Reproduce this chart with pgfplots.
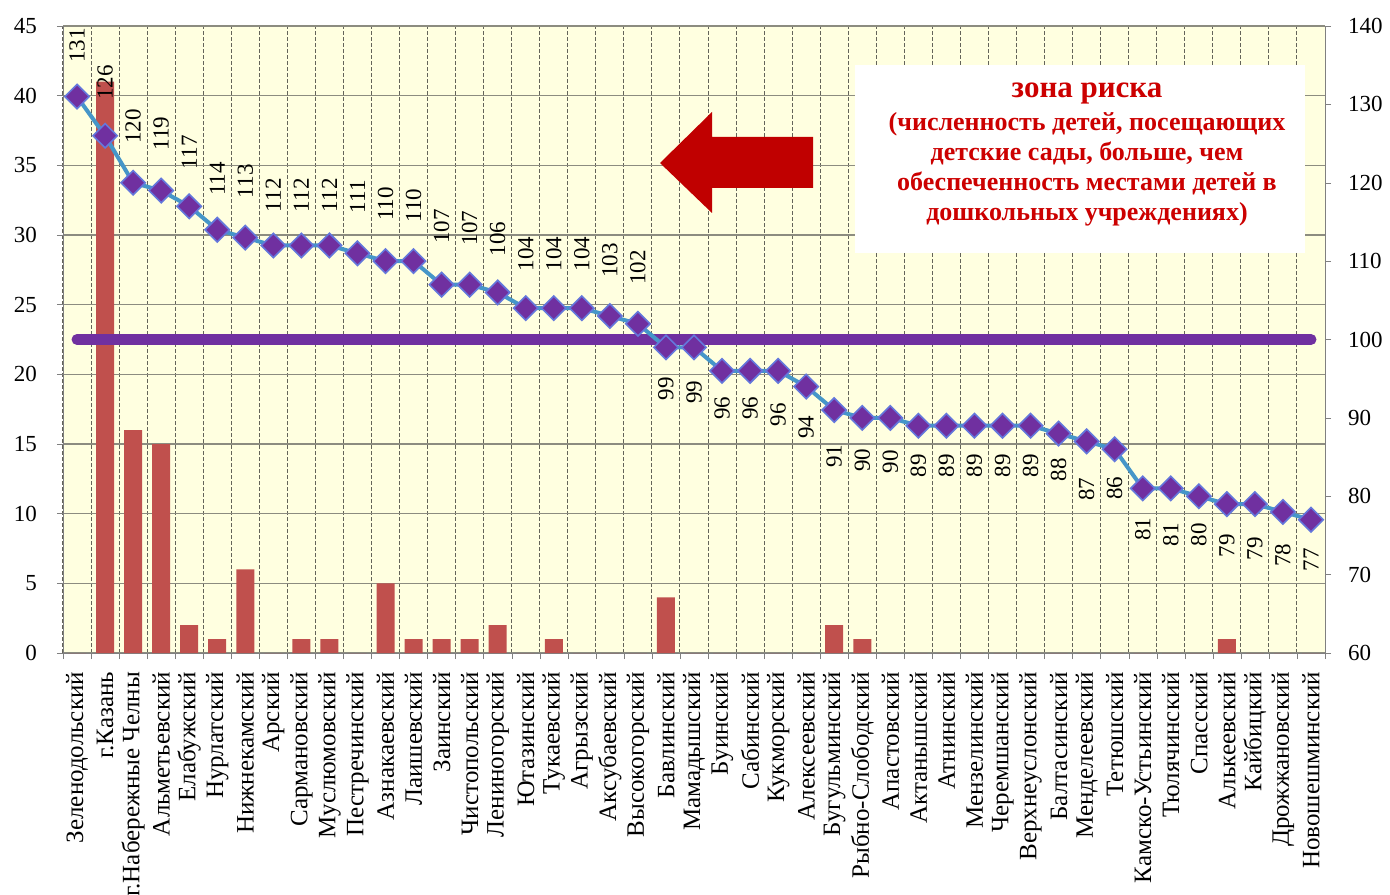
\documentclass[border=0pt]{standalone}
\usepackage{fontspec}
\setmainfont{Liberation Serif}
\usepackage{pgfplots}
\usepackage{pgfplotstable}
\pgfplotsset{compat=1.18}
\definecolor{bgyellow}{RGB}{255,255,224}
\definecolor{barred}{RGB}{192,80,77}
\definecolor{purp}{RGB}{112,48,160}
\definecolor{lineblue}{RGB}{70,150,200}
\definecolor{rimblue}{RGB}{100,120,220}
\definecolor{gridgray}{RGB}{140,140,128}
\definecolor{dashgray}{RGB}{100,100,90}
\definecolor{textred}{RGB}{204,0,0}
\definecolor{arrowred}{RGB}{192,0,0}
\pgfplotstableread{
x v bar ly
0 131 0 137.5
1 126 41 132.8
2 120 16 127.2
3 119 15 126.3
4 117 2 123.9
5 114 1 120.5
6 113 6 120.2
7 112 0 118.4
8 112 1 118.4
9 112 1 118.4
10 111 0 118.2
11 110 5 117.3
12 110 1 117.1
13 107 1 114.4
14 107 1 114.2
15 106 2 112.8
16 104 0 110.9
17 104 1 110.9
18 104 0 110.9
19 103 0 110.1
20 102 0 109.2
21 99 4 93.7
22 99 0 93.3
23 96 0 91.2
24 96 0 91.2
25 96 0 90.4
26 94 0 88.8
27 91 2 85.1
28 90 1 84.6
29 90 0 84.4
30 89 0 83.9
31 89 0 83.9
32 89 0 83.9
33 89 0 83.9
34 89 0 83.9
35 88 0 83.4
36 87 0 80.9
37 86 0 81.0
38 81 0 75.8
39 81 0 75.1
40 80 0 75.1
41 79 1 73.7
42 79 0 73.3
43 78 0 72.5
44 77 0 71.9
}\data
\begin{document}
\begin{tikzpicture}
\path[use as bounding box] (-31.5pt,-120.5pt) rectangle (663.5pt,326.5pt);
\begin{axis}[at={(0pt,0pt)}, anchor=south west, scale only axis,
  width=631pt, height=313.5pt,
  xmin=-0.5, xmax=44.5, ymin=0, ymax=45,
  axis background/.style={fill=bgyellow},
  axis x line*=bottom, axis y line*=left,
  axis line style={-, draw=gray},
  xtick={0,...,44},
  xticklabels={Зеленодольский, г.Казань, г.Набережные Челны, Альметьевский, Елабужский, Нурлатский, Нижнекамский, Арский, Сармановский, Муслюмовский, Пестречинский, Азнакаевский, Лаишевский, Заинский, Чистопольский, Лениногорский, Ютазинский, Тукаевский, Агрызский, Аксубаевский, Высокогорский, Бавлинский, Мамадышский, Буинский, Сабинский, Кукморский, Алексеевский, Бугульминский, Рыбно-Слободский, Апастовский, Актанышский, Атнинский, Мензелинский, Черемшанский, Верхнеуслонский, Балтасинский, Менделеевский, Тетюшский, Камско-Устьинский, Тюлячинский, Спасский, Алькеевский, Кайбицкий, Дрожжановский, Новошешминский},
  minor xtick={-0.5,0.5,...,44.5},
  xminorgrids, ymajorgrids,
  ytick={0,5,...,45},
  major grid style={gridgray, line width=0.6pt},
  minor grid style={dashgray, dash pattern=on 2pt off 1pt, line width=0.5pt},
  tick align=outside,
  major tick length=3pt, minor tick length=3pt,
  tick style={gray},
  major x tick style={draw=none},
  xticklabel shift=3pt,
  xticklabel style={rotate=90, anchor=east, font=\fontsize{12.5}{13}\selectfont},
  yticklabel style={font=\fontsize{11.5}{12}\selectfont, xshift=-6.5pt},
  /pgf/number format/assume math mode=true,
  ybar, bar width=9pt,
]
\addplot[fill=barred, draw=none] table[x=x,y=bar]{\data};
\end{axis}
\begin{axis}[at={(0pt,0pt)}, anchor=south west, scale only axis,
  width=631pt, height=313.5pt,
  xmin=-0.5, xmax=44.5, ymin=60, ymax=140,
  axis x line=none, axis y line*=right, xtick=\empty,
  axis line style={-, draw=gray},
  ytick={60,70,...,140},
  tick align=outside, major tick length=3pt, tick style={gray},
  yticklabel style={font=\fontsize{11.5}{12}\selectfont, xshift=5pt},
  /pgf/number format/assume math mode=true,
  clip=false,
]
\addplot[purp, line width=5.5pt, line cap=round] coordinates {(0,100) (44,100)};
\addplot[lineblue, line width=2pt, mark=square*, mark size=4.3pt,
  mark options={rotate=45, fill=purp, draw=rimblue, line width=0.8pt, solid}]
  table[x=x,y=v]{\data};
\addplot[draw=none, nodes near coords, point meta=explicit symbolic,
  nodes near coords style={rotate=90, anchor=center, font=\fontsize{11.5}{12}\selectfont, inner sep=0pt}]
  table[x=x,y=ly,meta=v]{\data};
\end{axis}
\fill[arrowred] (298.5pt,245pt) -- (324.5pt,270.5pt) -- (324.5pt,258pt) -- (375pt,258pt)
  -- (375pt,232.5pt) -- (324.5pt,232.5pt) -- (324.5pt,220pt) -- cycle;
\node[fill=white, minimum width=225pt, minimum height=94pt] at (508.5pt,247pt) {};
\node[text=textred, align=center, font=\bfseries\fontsize{13}{15}\selectfont] at (512pt,249pt)
  {{\fontsize{15.5}{17}\selectfont зона риска}\\[1.5pt](численность детей, посещающих\\детские сады, больше, чем\\обеспеченность местами детей в\\дошкольных учреждениях)};
\end{tikzpicture}
\end{document}
